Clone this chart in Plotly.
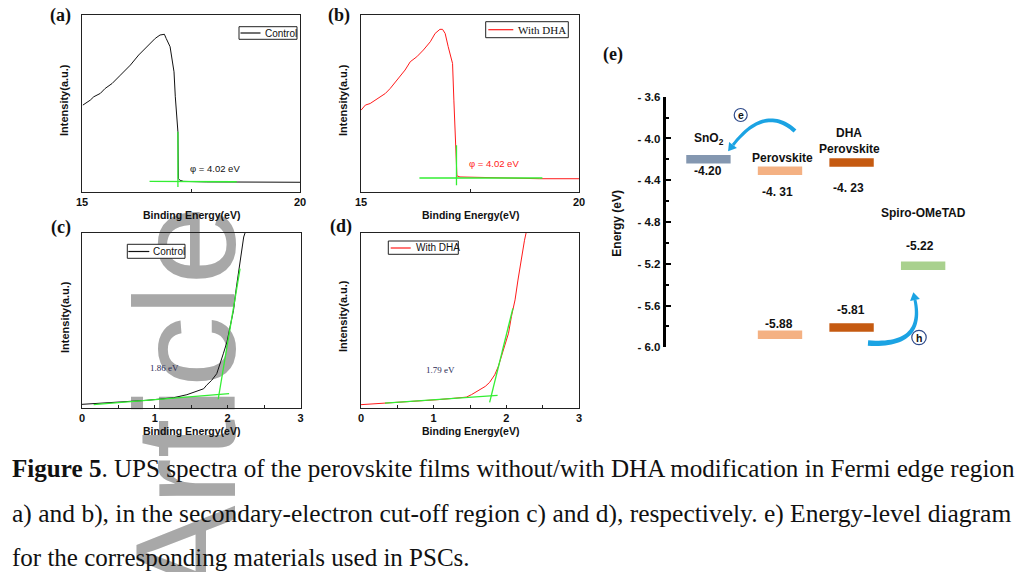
import plotly.graph_objects as go

W, H = 1023, 572
SANS = "Liberation Sans, Arial, sans-serif"
SERIF = "Liberation Serif, Times New Roman, serif"

# ---------------- data ----------------
# (a) Control, secondary-electron cut-off
a_x = [15.02, 15.19, 15.27, 15.42, 15.53, 15.69, 15.88, 16.11, 16.30, 16.49, 16.68, 16.79, 16.89,
       16.93, 17.02, 17.11, 17.14, 17.20, 17.21, 17.25, 17.33, 17.86, 18.63, 20.0]
a_y = [0.491, 0.519, 0.538, 0.557, 0.585, 0.613, 0.660, 0.717, 0.774, 0.821, 0.868, 0.887, 0.891,
       0.868, 0.821, 0.679, 0.538, 0.340, 0.075, 0.066, 0.060, 0.057, 0.055, 0.055]
a_fit_v_x = [17.20, 17.20]
a_fit_v_y = [0.028, 0.340]
a_fit_h_x = [16.55, 18.55]
a_fit_h_y = [0.060, 0.058]

# (b) With DHA
b_x = [15.0, 15.10, 15.21, 15.33, 15.44, 15.56, 15.67, 15.82, 16.01, 16.13, 16.28, 16.43, 16.59,
       16.70, 16.81, 16.87, 16.93, 17.00, 17.10, 17.13, 17.18, 17.20, 17.27, 17.88, 19.10, 20.0]
b_y = [0.462, 0.491, 0.500, 0.519, 0.538, 0.557, 0.585, 0.632, 0.689, 0.736, 0.764, 0.802, 0.849,
       0.896, 0.919, 0.919, 0.896, 0.821, 0.726, 0.519, 0.264, 0.091, 0.085, 0.081, 0.075, 0.075]
b_fit_v_x = [17.19, 17.19]
b_fit_v_y = [0.038, 0.264]
b_fit_h_x = [16.34, 19.16]
b_fit_h_y = [0.079, 0.079]

# (c) Control, valence-band edge
c_x = [0.0, 0.16, 0.34, 0.525, 0.71, 0.89, 1.07, 1.26, 1.44, 1.55, 1.67, 1.71, 1.78, 1.85, 1.89,
       1.94, 1.99, 2.03, 2.08, 2.12, 2.16, 2.19, 2.22, 2.25]
c_y = [0.021, 0.025, 0.029, 0.032, 0.038, 0.044, 0.051, 0.059, 0.076, 0.091, 0.110, 0.130, 0.158,
       0.196, 0.253, 0.310, 0.377, 0.463, 0.558, 0.691, 0.806, 0.901, 0.977, 1.015]
c_fit_base_x = [0.16, 2.02]
c_fit_base_y = [0.019, 0.082]
c_fit_edge_x = [1.87, 2.17]
c_fit_edge_y = [0.050, 0.796]

# (d) With DHA
d_x = [0.0, 0.17, 0.36, 0.585, 0.81, 1.04, 1.27, 1.45, 1.52, 1.57, 1.64, 1.71, 1.77, 1.84, 1.89,
       1.93, 1.98, 2.03, 2.07, 2.12, 2.16, 2.21, 2.25, 2.28]
d_y = [0.019, 0.023, 0.028, 0.034, 0.042, 0.047, 0.055, 0.062, 0.076, 0.089, 0.104, 0.123, 0.146,
       0.189, 0.237, 0.294, 0.360, 0.426, 0.521, 0.616, 0.729, 0.862, 0.956, 1.013]
d_fit_base_x = [0.33, 1.88]
d_fit_base_y = [0.028, 0.072]
d_fit_edge_x = [1.77, 2.09]
d_fit_edge_y = [0.032, 0.568]

# (e) energy levels
e_columns = [0, 1, 2, 3]          # SnO2, Perovskite, DHA Perovskite, Spiro-OMeTAD
e_level_col = [0, 1, 2, 3, 1, 2]
e_level_val = [-4.20, -4.31, -4.23, -5.22, -5.88, -5.81]
e_level_color = ["#8497b0", "#f4b183", "#c55a11", "#a9d18e", "#f4b183", "#c55a11"]
e_level_text = ["-4.20", "-4. 31", "-4. 23", "-5.22", "-5.88", "-5.81"]
e_ticks = [-3.6, -4.0, -4.4, -4.8, -5.2, -5.6, -6.0]
e_ticktext = ["- 3.6", "- 4.0", "- 4.4", "- 4.8", "- 5.2", "- 5.6", "- 6.0"]
e_minor = [-3.8, -4.2, -4.6, -5.0, -5.4, -5.8]


def PX(x):
    return x / W


def PY(y):
    return 1 - y / H


fig = go.Figure()

BLACK = "#111111"
RED = "#ff1a1a"
GREEN = "#33ee33"

def add_line(x, y, color, width, xa, ya):
    fig.add_trace(go.Scatter(x=x, y=y, mode="lines", line=dict(color=color, width=width),
                             xaxis=xa, yaxis=ya, showlegend=False, hoverinfo="skip"))

add_line(a_x, a_y, BLACK, 1, "x", "y")
add_line(a_fit_h_x, a_fit_h_y, GREEN, 1.3, "x", "y")
add_line(a_fit_v_x, a_fit_v_y, GREEN, 1.3, "x", "y")

add_line(b_x, b_y, RED, 1, "x2", "y2")
add_line(b_fit_h_x, b_fit_h_y, GREEN, 1.3, "x2", "y2")
add_line(b_fit_v_x, b_fit_v_y, GREEN, 1.3, "x2", "y2")

add_line(c_x, c_y, BLACK, 1, "x3", "y3")
add_line(c_fit_base_x, c_fit_base_y, GREEN, 1.3, "x3", "y3")
add_line(c_fit_edge_x, c_fit_edge_y, GREEN, 1.3, "x3", "y3")

add_line(d_x, d_y, RED, 1, "x4", "y4")
add_line(d_fit_base_x, d_fit_base_y, GREEN, 1.3, "x4", "y4")
add_line(d_fit_edge_x, d_fit_edge_y, GREEN, 1.3, "x4", "y4")

HALF = 0.31
for col, val, colr in zip(e_level_col, e_level_val, e_level_color):
    fig.add_trace(go.Scatter(x=[col - HALF, col + HALF], y=[val, val], mode="lines",
                             line=dict(color=colr, width=8.5), xaxis="x5", yaxis="y5",
                             showlegend=False, hoverinfo="skip"))

# ---------------- axes ----------------
def frame_axes(xdom, ydom, xr, tickvals, ticktext):
    xa = dict(domain=xdom, range=xr, showline=True, mirror=True, linecolor="#222222", linewidth=1,
              ticks="inside", ticklen=3, tickcolor="#222222", tickvals=tickvals, ticktext=ticktext,
              tickfont=dict(family=SANS, size=11, color=BLACK), showgrid=False, zeroline=False,
              automargin=False)
    ya = dict(domain=ydom, range=[0, 1], showline=True, mirror=True, linecolor="#222222", linewidth=1,
              showticklabels=False, ticks="", showgrid=False, zeroline=False, automargin=False)
    return xa, ya

tv_ab = [15, 17.5, 20]
tt_ab = ["<b>15</b>", " ", "<b>20</b>"]
tv_cd = [0, 0.5, 1, 1.5, 2, 2.5, 3]
tt_cd = ["<b>0</b>", " ", "<b>1</b>", " ", "<b>2</b>", " ", "<b>3</b>"]

xa1, ya1 = frame_axes([PX(82), PX(300)], [PY(192), PY(15)], [15, 20], tv_ab, tt_ab)
xa2, ya2 = frame_axes([PX(361), PX(579)], [PY(192), PY(15)], [15, 20], tv_ab, tt_ab)
xa3, ya3 = frame_axes([PX(82), PX(300.5)], [PY(408), PY(233)], [0, 3], tv_cd, tt_cd)
xa4, ya4 = frame_axes([PX(361), PX(579)], [PY(408), PY(232.5)], [0, 3], tv_cd, tt_cd)

xa1.update(anchor="y"); ya1.update(anchor="x")
xa2.update(anchor="y2"); ya2.update(anchor="x2")
xa3.update(anchor="y3"); ya3.update(anchor="x3")
xa4.update(anchor="y4"); ya4.update(anchor="x4")

e_left = 665.5
xa5 = dict(domain=[PX(e_left), PX(1002.5)], range=[-0.6, 4.109], visible=False, anchor="y5",
           automargin=False)
ya5 = dict(domain=[PY(347.3), PY(96.7)], range=[-6.0, -3.6], anchor="x5", showline=True,
           linecolor="black", linewidth=2.5, ticks="inside", ticklen=6, tickwidth=2,
           tickcolor="black", tickvals=e_ticks, ticktext=["<b>%s</b>" % t for t in e_ticktext],
           tickfont=dict(family=SANS, size=11.5, color=BLACK), showgrid=False, zeroline=False,
           automargin=False,
           minor=dict(tickvals=e_minor, ticks="inside", ticklen=3.5, tickwidth=2, tickcolor="black"))

fig.update_layout(xaxis=xa1, yaxis=ya1, xaxis2=xa2, yaxis2=ya2, xaxis3=xa3, yaxis3=ya3,
                  xaxis4=xa4, yaxis4=ya4, xaxis5=xa5, yaxis5=ya5)

# ---------------- annotations ----------------
ann = []
shapes = []

def text(x, y, s, size, family=SANS, color=BLACK, xanchor="center", yanchor="middle", angle=0):
    ann.append(dict(x=PX(x), y=PY(y), xref="paper", yref="paper", text=s, showarrow=False,
                    font=dict(family=family, size=size, color=color), xanchor=xanchor,
                    yanchor=yanchor, textangle=angle))

# panel letters
for lbl, (x, y) in {"(a)": (60.5, 15), "(b)": (339, 15), "(c)": (61, 227), "(d)": (340.5, 226),
                    "(e)": (613, 55)}.items():
    text(x, y, "<b>%s</b>" % lbl, 18, family=SERIF)

# axis titles
for x, y in [(191.5, 215), (470, 215), (191.5, 431), (470, 431)]:
    text(x, y, "<b>Binding Energy(eV)</b>", 10.5)
for x, y in [(64, 100), (343, 100), (65, 317), (343, 316)]:
    text(x, y, "<b>Intensity(a.u.)</b>", 11, angle=-90)

# in-plot labels
text(188.3, 169, "\u03c6 = 4.02 eV", 9.5, xanchor="left")
text(466.7, 163.3, "\u03c6 = 4.02 eV", 9.5, color=RED, xanchor="left")
text(148.3, 367.7, "1.86 eV", 9, family=SERIF, color="#2a2a55", xanchor="left")
text(424, 370, "1.79 eV", 9, family=SERIF, color="#2a2a55", xanchor="left")

# legends (boxes drawn manually)
def legend_box(x0, y0, x1, y1, lx0, lx1, ly, color, label, tx, size, family):
    shapes.append(dict(type="rect", xref="paper", yref="paper", x0=PX(x0), x1=PX(x1), y0=PY(y1),
                       y1=PY(y0), line=dict(color="#222222", width=1), fillcolor="white"))
    shapes.append(dict(type="line", xref="paper", yref="paper", x0=PX(lx0), x1=PX(lx1), y0=PY(ly),
                       y1=PY(ly), line=dict(color=color, width=1.2)))
    text(tx, ly, label, size, family=family, xanchor="left")

legend_box(239, 26.7, 297, 39.3, 240.5, 260.5, 33, BLACK, "Control", 262.5, 10, SANS)
legend_box(485.7, 21.7, 568.3, 37.7, 488.3, 513.3, 29.7, RED, "With DHA", 516, 11, SERIF)
legend_box(127.3, 244.3, 185, 258.3, 128.3, 149.3, 251.5, BLACK, "Control", 151, 10, SANS)
legend_box(388.3, 241, 458.3, 254.3, 390.7, 410.7, 248, RED, "With DHA", 413.5, 10, SANS)

# panel (e) labels
text(616.7, 223, "<b>Energy (eV)</b>", 12, angle=-90)
text(708.5, 139, "<b>SnO<sub>2</sub></b>", 12)
text(782, 158, "<b>Perovskite</b>", 12)
text(849, 133.5, "<b>DHA</b>", 12)
text(849, 149, "<b>Perovskite</b>", 12)
text(923.8, 213.3, "<b>Spiro-OMeTAD</b>", 12)
for (x, y), s in zip([(708, 170.5), (777.5, 191.7), (848, 188.3), (919.7, 245.7), (778.5, 324.3),
                      (850.8, 310)], e_level_text):
    text(x, y, "<b>%s</b>" % s, 12)

# circled carriers
for cx, cy, r, s in [(740.7, 115, 6.5, "e"), (919, 337.5, 7.2, "h")]:
    shapes.append(dict(type="circle", xref="paper", yref="paper", x0=PX(cx - r), x1=PX(cx + r),
                       y0=PY(cy + r), y1=PY(cy - r), line=dict(color="#2e4a8a", width=1.2)))
    text(cx, cy, "<b>%s</b>" % s, 10.5)


# curved tapered arrows
def arrow_path(p0, c, p1, w0, w1, hl, hw, n=30):
    import math
    left, right = [], []
    for i in range(n + 1):
        t = i / n
        bx = (1 - t) ** 2 * p0[0] + 2 * (1 - t) * t * c[0] + t * t * p1[0]
        by = (1 - t) ** 2 * p0[1] + 2 * (1 - t) * t * c[1] + t * t * p1[1]
        dx = 2 * (1 - t) * (c[0] - p0[0]) + 2 * t * (p1[0] - c[0])
        dy = 2 * (1 - t) * (c[1] - p0[1]) + 2 * t * (p1[1] - c[1])
        L = math.hypot(dx, dy)
        nx, ny = -dy / L, dx / L
        w = (w0 + (w1 - w0) * t) / 2
        left.append((bx + nx * w, by + ny * w))
        right.append((bx - nx * w, by - ny * w))
    pts = left + right[::-1]
    body = "M " + " L ".join("%.5f,%.5f" % (PX(x), PY(y)) for x, y in pts) + " Z"
    dx, dy = p1[0] - c[0], p1[1] - c[1]
    L = math.hypot(dx, dy)
    ux, uy = dx / L, dy / L
    tip = (p1[0] + ux * hl, p1[1] + uy * hl)
    b1 = (p1[0] - uy * hw, p1[1] + ux * hw)
    b2 = (p1[0] + uy * hw, p1[1] - ux * hw)
    head = "M %.5f,%.5f L %.5f,%.5f L %.5f,%.5f Z" % (PX(tip[0]), PY(tip[1]), PX(b1[0]), PY(b1[1]),
                                                       PX(b2[0]), PY(b2[1]))
    return body, head

CYAN = "#1ba3e3"
for p0, c, p1, w0, w1 in [((795, 131), (765, 104), (733, 145), 4.2, 3.0),
                          ((868, 343), (925, 347), (915, 300), 5.5, 3.0)]:
    body, head = arrow_path(p0, c, p1, w0, w1, 8, 5)
    for pth in (body, head):
        shapes.append(dict(type="path", xref="paper", yref="paper", path=pth, fillcolor=CYAN,
                           line=dict(width=0)))

# watermark (behind the plots)
shapes.append(dict(type="rect", xref="paper", yref="paper", layer="below", x0=PX(82), x1=PX(262),
                   y0=PY(603), y1=PY(203), line=dict(width=0), fillcolor="rgba(0,0,0,0)",
                   label=dict(text="Article", textangle=-90, textposition="middle center",
                              font=dict(family=SANS, size=142, color="#a8a8a8"))))

# caption
cap = ["<b>Figure 5</b>. UPS spectra of the perovskite films without/with DHA modification in Fermi edge region",
       "a) and b), in the secondary-electron cut-off region c) and d), respectively. e) Energy-level diagram",
       "for the corresponding materials used in PSCs."]
cap_size = [25.1, 25.5, 25]
for s, y, fs in zip(cap, [468, 513, 557], cap_size):
    text(10, y, s, fs, family=SERIF, xanchor="left")

fig.update_layout(width=W, height=H, margin=dict(l=0, r=0, t=0, b=0, autoexpand=False),
                  paper_bgcolor="white", plot_bgcolor="rgba(0,0,0,0)", showlegend=False,
                  annotations=ann, shapes=shapes)

fig.write_html("out.html", config={"displayModeBar": False},
               post_script="document.body.style.margin='0px';document.body.style.overflow='hidden';")
